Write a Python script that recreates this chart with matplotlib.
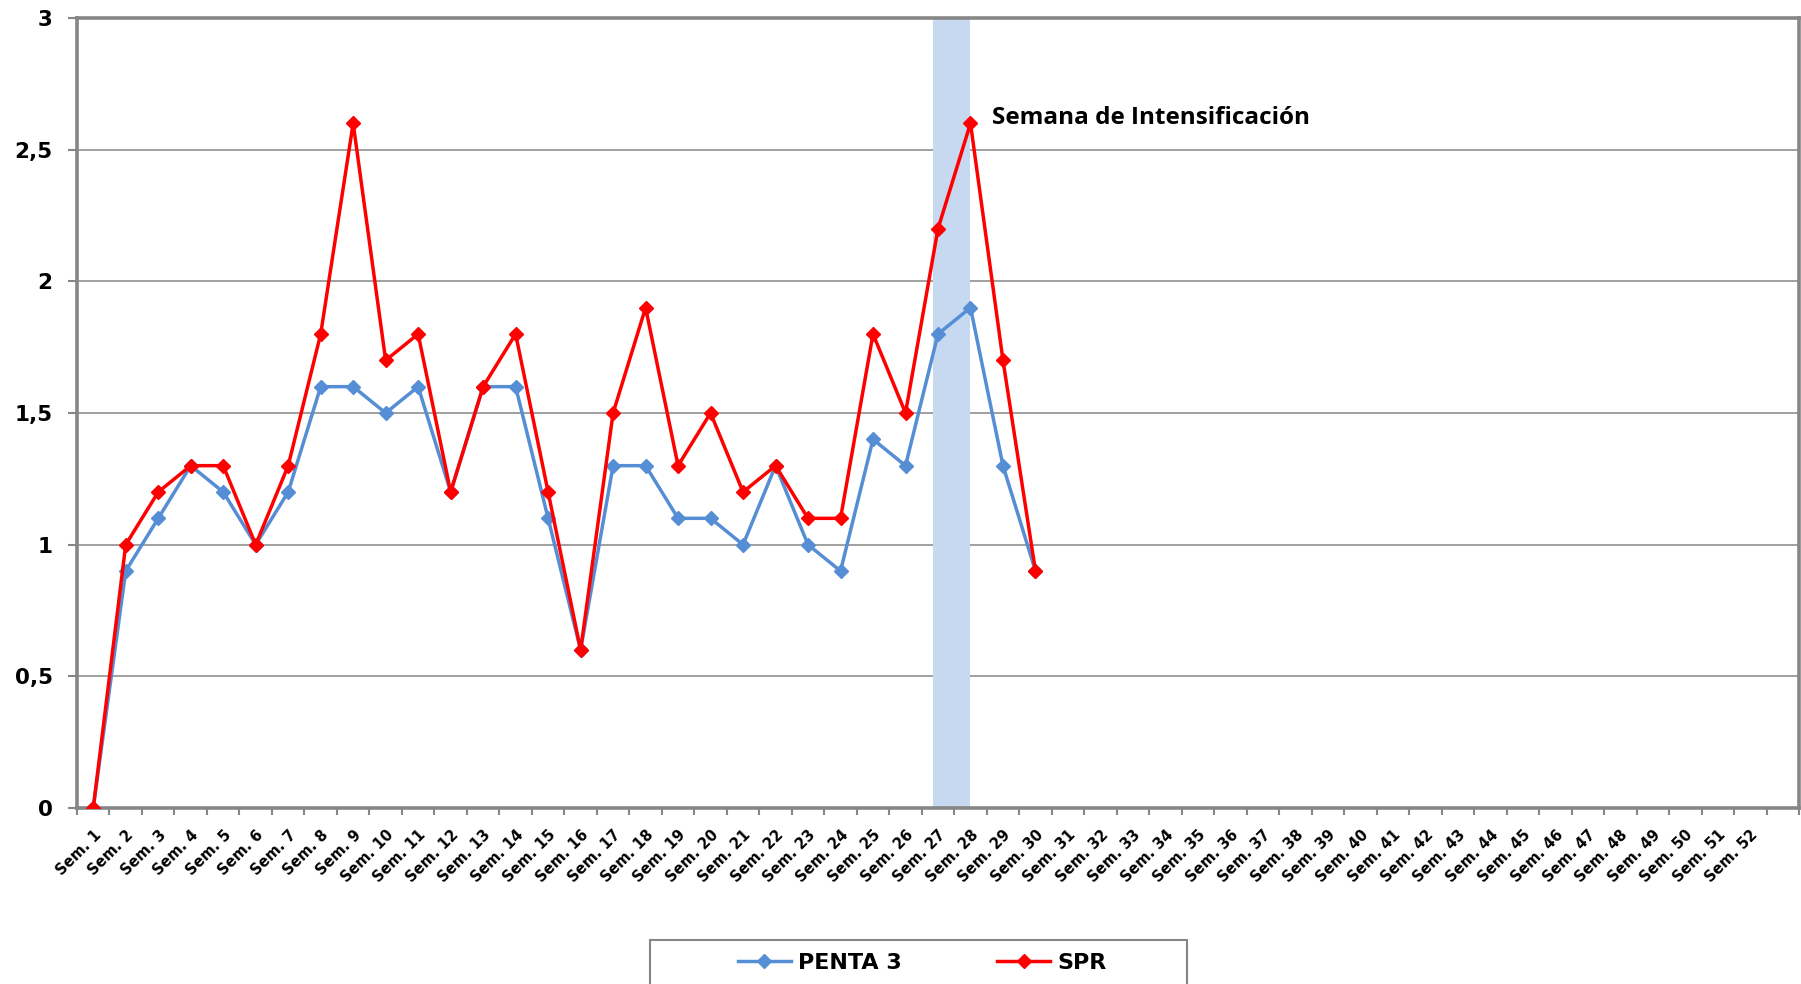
import numpy as np
import matplotlib
matplotlib.use('Agg')
import matplotlib.pyplot as plt
from matplotlib.patches import Rectangle
from matplotlib.ticker import FixedLocator

weeks = ['Sem. %d' % i for i in range(1, 53)] + ['']
penta3 = [0, 0.9, 1.1, 1.3, 1.2, 1.0, 1.2, 1.6, 1.6, 1.5, 1.6, 1.2, 1.6, 1.6, 1.1,
          0.6, 1.3, 1.3, 1.1, 1.1, 1.0, 1.3, 1.0, 0.9, 1.4, 1.3, 1.8, 1.9, 1.3, 0.9]
spr = [0, 1.0, 1.2, 1.3, 1.3, 1.0, 1.3, 1.8, 2.6, 1.7, 1.8, 1.2, 1.6, 1.8, 1.2,
       0.6, 1.5, 1.9, 1.3, 1.5, 1.2, 1.3, 1.1, 1.1, 1.8, 1.5, 2.2, 2.6, 1.7, 0.9]
y_ticks = [0, 0.5, 1, 1.5, 2, 2.5, 3]
y_labels = ['0', '0,5', '1', '1,5', '2', '2,5', '3']
band_start, band_end = 25.85, 27.0   # semana 27 -> semana 28

grey = '#868686'
blue = '#558ED5'
red = '#FF0000'

fig = plt.figure(figsize=(18.01, 9.84), dpi=100)
ax = fig.add_axes([77 / 1801, 1 - 808 / 984, 1722 / 1801, 790 / 984])

x = np.arange(len(weeks))
ax.axvspan(band_start, band_end, color='#C6D9F1', zorder=1, lw=0)
ax.plot(x[:len(penta3)], penta3, color=blue, lw=2.5, marker='D', ms=7,
        label='PENTA 3', zorder=3)
ax.plot(x[:len(spr)], spr, color=red, lw=2.5, marker='D', ms=7.5,
        label='SPR', zorder=4)

ax.set_xlim(-0.5, len(weeks) - 0.5)
ax.set_ylim(0, 3)
ax.set_yticks(y_ticks)
ax.set_yticklabels(y_labels, fontsize=15.5, fontweight='bold')
ax.set_xticks(x)
ax.set_xticklabels(weeks, rotation=45, ha='right', va='top',
                   rotation_mode='anchor', fontsize=10.5, fontweight='bold')
ax.xaxis.set_minor_locator(FixedLocator(np.arange(-0.5, len(weeks), 1)))
ax.tick_params(axis='x', which='major', length=0, pad=14)
ax.tick_params(axis='x', which='minor', length=5, width=1.5, color=grey,
               direction='out')
ax.tick_params(axis='y', which='major', length=6.5, width=1.5, color=grey,
               pad=11)

ax.grid(axis='y', color=grey, lw=1.1, zorder=0)
ax.set_axisbelow(True)
for s in ax.spines.values():
    s.set_color(grey)
    s.set_linewidth(2.6)

ax.text(27.65, 2.62, 'Semana de Intensificación', fontsize=17.5,
        fontweight='bold', va='center', ha='left', family=['Open Sans', 'DejaVu Sans'])

# legend box clipped at the bottom, like the original
fig.patches.append(Rectangle((650 / 1801, -0.05), 537 / 1801, 1 - 940 / 984 + 0.05,
                             transform=fig.transFigure, fill=False,
                             edgecolor=grey, lw=1.5))
leg = fig.legend(loc='center', bbox_to_anchor=(922 / 1801, 1 - 963 / 984),
                 ncol=2, frameon=False, handlelength=2.4, columnspacing=4.3,
                 handletextpad=0.3,
                 prop={'size': 16, 'weight': 'bold',
                       'family': ['Liberation Sans Narrow', 'DejaVu Sans']})

fig.savefig('out.png', dpi=100)
